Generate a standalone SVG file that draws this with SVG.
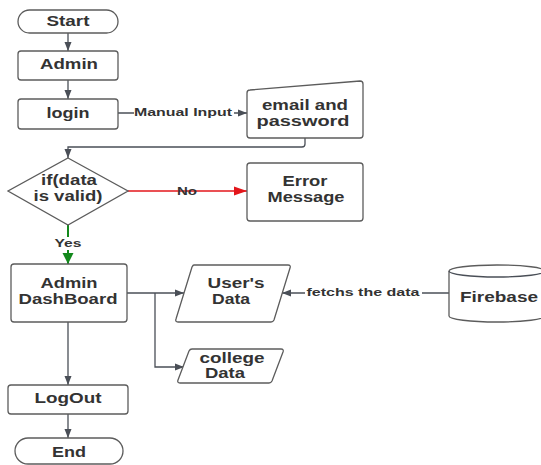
<svg xmlns="http://www.w3.org/2000/svg" width="541" height="465" viewBox="0 0 541 465">
<defs>
<style>
.s{fill:#fff;stroke:#5c5c5c;stroke-width:1.3}
.t{font-family:"Liberation Sans",Arial,sans-serif;font-weight:bold;font-size:14px;fill:#333;text-anchor:middle}
.l{font-family:"Liberation Sans",Arial,sans-serif;font-weight:bold;font-size:11px;fill:#333;text-anchor:middle}
.c{fill:none;stroke:#4a4f57;stroke-width:1.3}
</style>
<marker id="a" markerUnits="userSpaceOnUse" markerWidth="10" markerHeight="8" refX="9" refY="4" orient="auto"><path d="M0,0.5 L9,4 L0,7.5 Z" fill="#4a4f57"/></marker>
<marker id="ar" markerUnits="userSpaceOnUse" markerWidth="14" markerHeight="10" refX="13" refY="5" orient="auto"><path d="M0,0.5 L13,5 L0,9.5 Z" fill="#e3161b"/></marker>
<marker id="ag" markerUnits="userSpaceOnUse" markerWidth="12" markerHeight="12" refX="11" refY="6" orient="auto"><path d="M0,0.5 L11,6 L0,11.5 Z" fill="#13891c"/></marker>
</defs>
<g id="connectors">
<path class="c" d="M68,33 V51" marker-end="url(#a)"/>
<path class="c" d="M68,80 V99" marker-end="url(#a)"/>
<path class="c" d="M118,113 H247" marker-end="url(#a)"/>
<rect x="134" y="106" width="100" height="13" fill="#fff"/>
<text class="l" x="183" y="116" textLength="98" lengthAdjust="spacingAndGlyphs">Manual Input</text>
<path class="c" d="M305,138 V144 Q305,147 302,147 H68 V158" marker-end="url(#a)"/>
<path fill="none" stroke="#e3161b" stroke-width="1.5" d="M128,191 H247" marker-end="url(#ar)"/>
<rect x="176" y="185" width="23" height="13" fill="#fff" opacity="0"/>
<text class="l" x="187" y="195" textLength="20" lengthAdjust="spacingAndGlyphs">No</text>
<path fill="none" stroke="#13891c" stroke-width="2" d="M68,225 V264" marker-end="url(#ag)"/>
<rect x="54" y="237" width="29" height="13" fill="#fff"/>
<text class="l" x="68" y="247" textLength="27" lengthAdjust="spacingAndGlyphs">Yes</text>
<path class="c" d="M127,293 H184" marker-end="url(#a)"/>
<path class="c" d="M155,293 V367 H184" marker-end="url(#a)"/>
<path class="c" d="M449,293 H282" marker-end="url(#a)"/>
<rect x="305" y="286" width="117" height="13" fill="#fff"/>
<text class="l" x="363" y="296" textLength="113" lengthAdjust="spacingAndGlyphs">fetchs the data</text>
<path class="c" d="M68,322 V385" marker-end="url(#a)"/>
<path class="c" d="M68,414 V438" marker-end="url(#a)"/>
</g>
<g id="start">
<rect class="s" x="18" y="10" width="100" height="23" rx="11.5"/>
<text class="t" x="68" y="26" textLength="43" lengthAdjust="spacingAndGlyphs">Start</text>
</g>
<g id="admin">
<rect class="s" x="18" y="51" width="100" height="29" rx="3"/>
<text class="t" x="69" y="69" textLength="58" lengthAdjust="spacingAndGlyphs">Admin</text>
</g>
<g id="login">
<rect class="s" x="18" y="99" width="100" height="30" rx="3"/>
<text class="t" x="68" y="118" textLength="43" lengthAdjust="spacingAndGlyphs">login</text>
</g>
<g id="email">
<path class="s" d="M250,90 L360,81 Q363,81 363,84 L363,135 Q363,138 360,138 L250,138 Q247,138 247,135 L247,93 Q247,90 250,90 Z"/>
<text class="t" x="305" y="110" textLength="86" lengthAdjust="spacingAndGlyphs">email and</text>
<text class="t" x="303" y="126" textLength="93" lengthAdjust="spacingAndGlyphs">password</text>
</g>
<g id="decision">
<path class="s" d="M68,158 L128,191 L68,225 L8,191 Z"/>
<text class="t" x="69" y="185" textLength="56" lengthAdjust="spacingAndGlyphs">if(data</text>
<text class="t" x="68" y="201" textLength="69" lengthAdjust="spacingAndGlyphs">is valid)</text>
</g>
<g id="error">
<rect class="s" x="247" y="163" width="116" height="58" rx="3"/>
<text class="t" x="305" y="186" textLength="45" lengthAdjust="spacingAndGlyphs">Error</text>
<text class="t" x="306" y="202" textLength="77" lengthAdjust="spacingAndGlyphs">Message</text>
</g>
<g id="dashboard">
<rect class="s" x="11" y="264" width="116" height="58" rx="3"/>
<text class="t" x="69" y="288" textLength="57" lengthAdjust="spacingAndGlyphs">Admin</text>
<text class="t" x="68" y="304" textLength="99" lengthAdjust="spacingAndGlyphs">DashBoard</text>
</g>
<g id="users">
<path class="s" d="M194,265 L288,265 Q291,265 290,268 L274,320 Q273,322 271,322 L178,322 Q175,322 176,319 L192,267 Q193,265 194,265 Z"/>
<text class="t" x="236" y="288" textLength="57" lengthAdjust="spacingAndGlyphs">User's</text>
<text class="t" x="231" y="304" textLength="38" lengthAdjust="spacingAndGlyphs">Data</text>
</g>
<g id="college">
<path class="s" d="M192,349 L281,349 Q284,349 283,352 L272,381 Q271,383 269,383 L180,383 Q177,383 178,380 L189,351 Q190,349 192,349 Z"/>
<text class="t" x="232" y="363" textLength="65" lengthAdjust="spacingAndGlyphs">college</text>
<text class="t" x="225" y="378" textLength="40" lengthAdjust="spacingAndGlyphs">Data</text>
</g>
<g id="firebase">
<path class="s" d="M449,271 A48,6 0 0,1 545,271 L545,316 A48,6 0 0,1 449,316 Z"/>
<path class="c" d="M449,271 A48,6 0 0,0 545,271" stroke="#5c5c5c"/>
<text class="t" x="499" y="302" textLength="78" lengthAdjust="spacingAndGlyphs">Firebase</text>
</g>
<g id="logout">
<rect class="s" x="8" y="385" width="120" height="29" rx="3"/>
<text class="t" x="68" y="403" textLength="67" lengthAdjust="spacingAndGlyphs">LogOut</text>
</g>
<g id="end">
<rect class="s" x="15" y="438" width="108" height="26" rx="13"/>
<text class="t" x="69" y="457" textLength="34" lengthAdjust="spacingAndGlyphs">End</text>
</g>
</svg>
